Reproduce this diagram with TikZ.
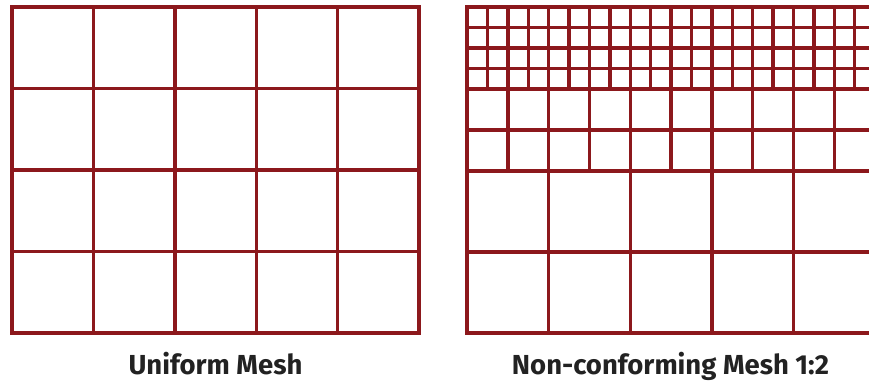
\documentclass[tikz,border=0pt]{standalone}
\usepackage{fontspec}
\setmainfont{Fira Sans}
\definecolor{meshred}{RGB}{140,24,28}
\definecolor{labelgray}{RGB}{34,34,34}
\begin{document}
\begin{tikzpicture}[x=1pt,y=-1pt,
  meshline/.style={draw=meshred, line width=3.4pt},
  meshlabel/.style={font=\bfseries\fontsize{27.5}{32}\selectfont, text=labelgray, inner sep=0pt, anchor=base}]
\useasboundingbox (0,0) rectangle (869,381);
% Uniform mesh
\foreach \i in {1,...,4} \draw[meshline] ({12+81.4*\i},7) -- ({12+81.4*\i},333);
\foreach \j in {1,...,3} \draw[meshline] (12,{7+81.5*\j}) -- (419,{7+81.5*\j});
\draw[meshline] (12,7) rectangle (419,333);
% Non-conforming mesh
\begin{scope}
\clip (460,0) rectangle (869,381);
% coarse verticals
\foreach \k in {0,...,5} \draw[meshline] ({467+81.6*\k},7) -- ({467+81.6*\k},333);
% medium verticals
\foreach \k in {0,...,4} \draw[meshline] ({467+40.8*(2*\k+1)},7) -- ({467+40.8*(2*\k+1)},171);
% fine verticals
\foreach \k in {0,...,9} \draw[meshline] ({467+20.4*(2*\k+1)},7) -- ({467+20.4*(2*\k+1)},89);
% horizontals
\foreach \y in {7,27.5,48,68.5,89,130,171,252,333} \draw[meshline] (465.3,\y) -- (880,\y);
\end{scope}
% Labels
\node[meshlabel] (uniform) at (215.5,374) {Uniform Mesh};
\node[meshlabel] (nonconf) at (670.5,374) {Non-conforming Mesh 1:2};
\end{tikzpicture}
\end{document}
